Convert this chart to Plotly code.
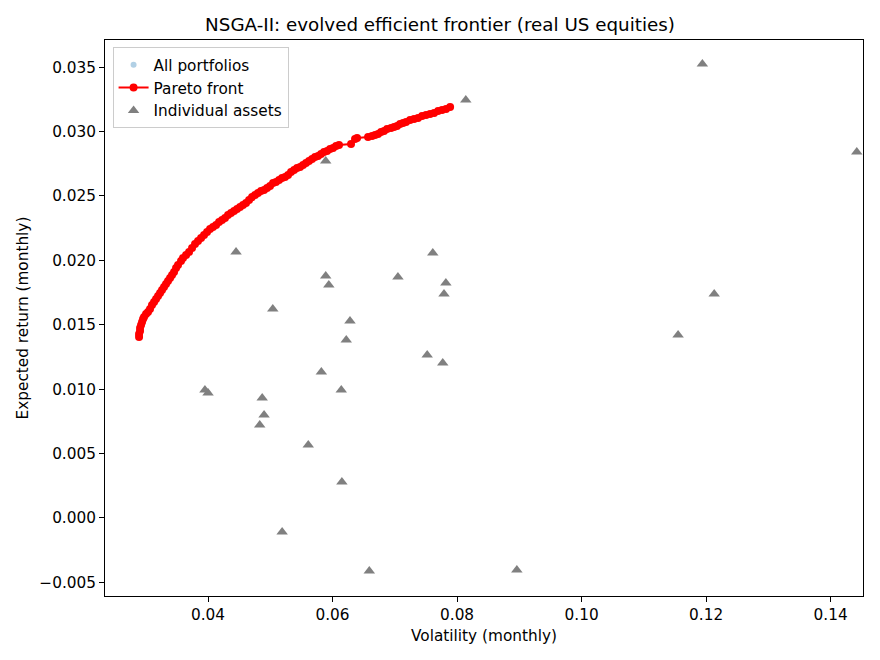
import plotly.graph_objects as go

# Pareto front (volatility, expected return)
pareto_vol = [0.02892, 0.02892, 0.02908, 0.02908, 0.02924, 0.02940, 0.02956, 0.02972, 0.03004, 0.03036,
              0.03068, 0.03100, 0.03133, 0.03165, 0.03197, 0.03229, 0.03261, 0.03293, 0.03325, 0.03357,
              0.03390, 0.03422, 0.03454, 0.03486, 0.03518, 0.03566, 0.03598, 0.03647, 0.03695, 0.03743,
              0.03791, 0.03839, 0.03888, 0.03936, 0.03984, 0.04032, 0.04080, 0.04129, 0.04177, 0.04225,
              0.04273, 0.04321, 0.04369, 0.04418, 0.04466, 0.04514, 0.04562, 0.04610, 0.04659, 0.04707,
              0.04755, 0.04803, 0.04851, 0.04900, 0.04948, 0.04996, 0.05044, 0.05092, 0.05141, 0.05189,
              0.05237, 0.05285, 0.05333, 0.05382, 0.05430, 0.05478, 0.05526, 0.05574, 0.05622, 0.05671,
              0.05719, 0.05767, 0.05815, 0.05863, 0.05912, 0.05960, 0.06008, 0.06056, 0.06104, 0.06297,
              0.06361, 0.06394, 0.06570, 0.06635, 0.06683, 0.06731, 0.06779, 0.06827, 0.06876, 0.06940,
              0.06988, 0.07036, 0.07084, 0.07133, 0.07181, 0.07245, 0.07309, 0.07373, 0.07438, 0.07502,
              0.07566, 0.07631, 0.07695, 0.07759, 0.07823, 0.07888]
pareto_ret = [0.01405, 0.01429, 0.01452, 0.01475, 0.01498, 0.01522, 0.01545, 0.01561, 0.01584, 0.01599,
              0.01623, 0.01654, 0.01677, 0.01700, 0.01724, 0.01747, 0.01770, 0.01793, 0.01817, 0.01840,
              0.01863, 0.01887, 0.01910, 0.01941, 0.01964, 0.01995, 0.02019, 0.02042, 0.02065, 0.02096,
              0.02127, 0.02151, 0.02174, 0.02197, 0.02220, 0.02244, 0.02259, 0.02275, 0.02298, 0.02314,
              0.02329, 0.02352, 0.02368, 0.02384, 0.02399, 0.02415, 0.02430, 0.02446, 0.02469, 0.02492,
              0.02508, 0.02523, 0.02539, 0.02547, 0.02562, 0.02578, 0.02601, 0.02609, 0.02624, 0.02640,
              0.02648, 0.02663, 0.02686, 0.02702, 0.02717, 0.02725, 0.02741, 0.02756, 0.02772, 0.02787,
              0.02803, 0.02811, 0.02826, 0.02842, 0.02849, 0.02865, 0.02873, 0.02888, 0.02896, 0.02904,
              0.02943, 0.02950, 0.02958, 0.02966, 0.02974, 0.02981, 0.02997, 0.03005, 0.03020, 0.03028,
              0.03036, 0.03043, 0.03059, 0.03067, 0.03075, 0.03090, 0.03098, 0.03106, 0.03121, 0.03129,
              0.03137, 0.03144, 0.03160, 0.03168, 0.03176, 0.03191]

# All portfolios of the final population (they lie on the front, hidden beneath it)
all_vol = list(pareto_vol)
all_ret = list(pareto_ret)

# Individual assets
asset_vol = [0.1194, 0.0814, 0.1442, 0.0589, 0.0445, 0.0761, 0.0589, 0.0594, 0.0705, 0.0782,
             0.0779, 0.1213, 0.0504, 0.0628, 0.0622, 0.1155, 0.0752, 0.0777, 0.0582, 0.0614,
             0.0395, 0.0400, 0.0487, 0.0490, 0.0483, 0.0561, 0.0615, 0.0519, 0.0659, 0.0896]
asset_ret = [0.03525, 0.03245, 0.02842, 0.02772, 0.02065, 0.02057, 0.01879, 0.01809, 0.01871, 0.01825,
             0.01739, 0.01739, 0.01623, 0.01530, 0.01382, 0.01421, 0.01266, 0.01203, 0.01134, 0.00994,
             0.00994, 0.00971, 0.00932, 0.00800, 0.00722, 0.00567, 0.00280, -0.00109, -0.00411, -0.00404]

x_ticks = [0.04, 0.06, 0.08, 0.10, 0.12, 0.14]
y_ticks = [-0.005, 0.0, 0.005, 0.010, 0.015, 0.020, 0.025, 0.030, 0.035]

font_family = "DejaVu Sans"
fs = 15.3

fig = go.Figure()
fig.add_trace(go.Scatter(
    x=all_vol, y=all_ret, mode="markers", name="All portfolios",
    marker=dict(color="rgba(31,119,180,0.35)", size=6),
))
fig.add_trace(go.Scatter(
    x=pareto_vol, y=pareto_ret, mode="lines+markers", name="Pareto front",
    line=dict(color="#ff0000", width=2),
    marker=dict(color="#ff0000", size=8, symbol="circle"),
))
fig.add_trace(go.Scatter(
    x=asset_vol, y=asset_ret, mode="markers", name="Individual assets",
    marker=dict(color="#808080", size=10, symbol="triangle-up"),
))

axis_common = dict(
    showline=True, linecolor="black", linewidth=1, mirror=True,
    ticks="outside", ticklen=5, tickwidth=1, tickcolor="black",
    showgrid=False, zeroline=False,
    tickfont=dict(family=font_family, size=fs, color="black"),
)

fig.update_layout(
    width=880, height=660,
    margin=dict(l=105, r=17, t=40, b=64),
    paper_bgcolor="white", plot_bgcolor="white",
    font=dict(family=font_family, color="black"),
    title=dict(text="NSGA-II: evolved efficient frontier (real US equities)",
               x=0.5, xanchor="center", y=0.963, yanchor="middle",
               font=dict(family=font_family, size=18.3, color="black")),
    xaxis=dict(range=[0.02345, 0.1452], tickvals=x_ticks, tickformat=".2f",
               title=dict(text="Volatility (monthly)", font=dict(size=fs), standoff=6),
               **axis_common),
    yaxis=dict(range=[-0.00606, 0.03711], tickvals=y_ticks, tickformat=".3f",
               title=dict(text="Expected return (monthly)", font=dict(size=fs), standoff=6),
               **axis_common),
    legend=dict(x=0.01, y=0.987, xanchor="left", yanchor="top",
                bgcolor="rgba(255,255,255,0.8)", bordercolor="#cccccc", borderwidth=1,
                font=dict(family=font_family, size=fs, color="black"),
                itemsizing="trace", tracegroupgap=0),
    showlegend=True,
)

fig.write_html("out.html")
